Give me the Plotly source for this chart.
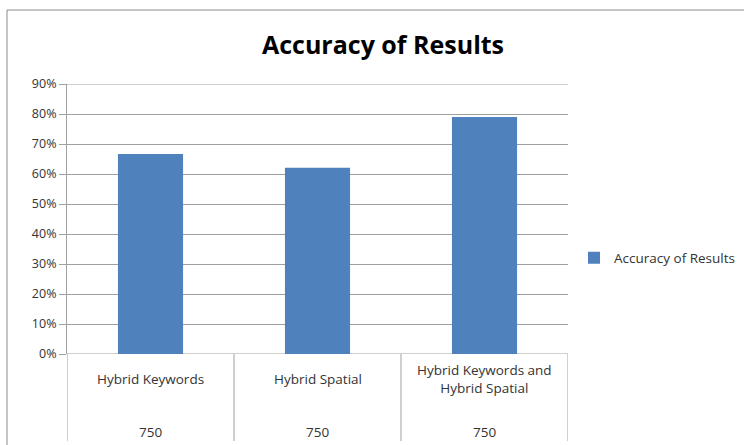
import plotly.graph_objects as go

categories = ["Hybrid Keywords", "Hybrid Spatial", "Hybrid Keywords and<br>Hybrid Spatial"]
counts = ["750", "750", "750"]
accuracy = [0.667, 0.621, 0.79]
series_name = "Accuracy of Results"
y_ticks = [0, 0.1, 0.2, 0.3, 0.4, 0.5, 0.6, 0.7, 0.8, 0.9]

W, H = 744, 445
L, R, T, B = 67, 176, 84, 91
pw, ph = W - L - R, H - T - B

def px_x(p):
    return (p - L) / pw

def px_y(p):
    return (H - B - p) / ph

grid = "#A0A0A0"
txt = "#333333"
font = "Open Sans"

fig = go.Figure()
fig.add_trace(go.Bar(x=list(range(len(categories))), y=accuracy, name=series_name,
                     marker=dict(color="#4F81BD", line=dict(width=0)),
                     showlegend=True))

shapes = []
# outer chart frame
shapes.append(dict(type="rect", xref="paper", yref="paper",
                   x0=px_x(7), x1=px_x(760), y0=px_y(460), y1=px_y(10),
                   line=dict(color="#8C8C8C", width=1), fillcolor="rgba(0,0,0,0)", layer="below"))
# top and bottom gridlines at range edges
for yv in (y_ticks[0], y_ticks[-1]):
    shapes.append(dict(type="line", xref="paper", yref="y", x0=0, x1=1, y0=yv, y1=yv,
                       line=dict(color=grid, width=1), layer="below"))
# category separators below axis
for i in range(len(categories) + 1):
    shapes.append(dict(type="line", xref="x", yref="paper",
                       x0=i - 0.5, x1=i - 0.5, y0=0, y1=px_y(441),
                       line=dict(color=grid, width=1)))

annotations = []
for i, (c, n) in enumerate(zip(categories, counts)):
    annotations.append(dict(x=i, y=px_y(379), xref="x", yref="paper", text=c,
                            showarrow=False, font=dict(family=font, size=13.5, color=txt),
                            xanchor="center", yanchor="middle"))
    annotations.append(dict(x=i, y=px_y(432), xref="x", yref="paper", text=n,
                            showarrow=False, font=dict(family=font, size=13.5, color=txt),
                            xanchor="center", yanchor="middle"))

fig.update_layout(
    width=W, height=H,
    margin=dict(l=L, r=R, t=T, b=B, pad=0, autoexpand=False),
    paper_bgcolor="white", plot_bgcolor="white",
    title=dict(text="<b>Accuracy of Results</b>", x=px_x(383), xanchor="center",
               y=1 - 45 / H, yanchor="middle", xref="paper",
               font=dict(family=font, size=25, color="#000000")),
    xaxis=dict(range=[-0.5, len(categories) - 0.5], showticklabels=False,
               showgrid=False, zeroline=False, showline=False, ticks=""),
    yaxis=dict(range=[0, 0.9], tickvals=y_ticks, tickformat=".0%",
               showgrid=True, gridcolor=grid, gridwidth=1,
               zeroline=False, showline=True, linecolor=grid, linewidth=1,
               ticks="outside", ticklen=7, tickcolor=grid,
               tickfont=dict(family=font, size=12.5, color=txt)),
    bargap=0.61,
    legend=dict(x=px_x(574), y=px_y(258), xanchor="left", yanchor="middle",
                font=dict(family=font, size=13.5, color=txt),
                itemwidth=30, bgcolor="rgba(0,0,0,0)"),
    shapes=shapes,
    annotations=annotations,
)

fig.write_html("out.html")
